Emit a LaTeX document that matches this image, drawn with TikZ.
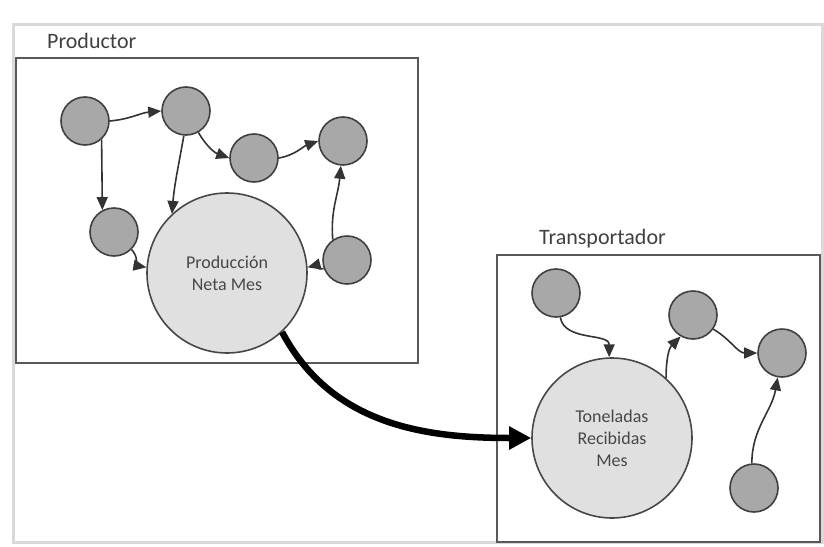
\documentclass[tikz,border=0pt]{standalone}
\usepackage{fontspec}
\setmainfont{Carlito}
\usetikzlibrary{positioning, arrows.meta}
\tikzstyle{frame} = [draw=black!65, line width=1.5pt, inner sep=0pt]
\tikzstyle{frame_label} = [font=\fontsize{22}{26}\selectfont, text=black!75, inner sep=0pt]
\tikzstyle{main_var} = [circle, draw=black!72, line width=1.6pt, fill=black!12, minimum size=160pt, inner sep=0pt,
 align=center, text=black!72, font=\fontsize{18}{22}\selectfont]
\tikzstyle{minor_var} = [circle, draw=black!75, line width=1.6pt, fill=black!34, minimum size=48pt, inner sep=0pt]
\tikzstyle{arrow} = [line width=1.6pt, draw=black!80, -{Triangle[length=13pt,width=11pt]}]
\tikzstyle{heavy_arrow} = [line width=6.5pt, -{Triangle[length=22pt,width=22pt]}]

\begin{document}
\begin{tikzpicture}[on grid]
\useasboundingbox (0,0) rectangle (824pt,-546pt);
\draw [draw=black!15, line width=3pt] (13pt,-24pt) rectangle (822pt,-542pt);

\node (PRODUCTOR_BOX) [frame, minimum width=402pt, minimum height=305pt] at (217pt,-210.5pt) {};
\node (PRODUCTOR_LABEL) [frame_label, anchor=base west] at (47pt,-48pt) {Productor};
\node (TRANSPORTADOR_BOX) [frame, minimum width=323pt, minimum height=287pt] at (658.5pt,-398.5pt) {};
\node (TRANSPORTADOR_LABEL) [frame_label, anchor=base west] at (539pt,-244pt) {Transportador};

% productor
\node (PROD_NETA_MES) [main_var] at (227pt,-273pt) {Producción\\Neta Mes};
\node (PROD_VAR_1) [minor_var, above left=152pt and 142pt of PROD_NETA_MES] {};
\node (PROD_VAR_2) [minor_var, above right=10pt and 101pt of PROD_VAR_1] {};
\node (PROD_VAR_3) [minor_var, below right=47pt and 68pt of PROD_VAR_2] {};
\node (PROD_VAR_4) [minor_var, above right=17pt and 89pt of PROD_VAR_3] {};
\node (PROD_VAR_5) [minor_var, below right=111pt and 29pt of PROD_VAR_1] {};
\node (PROD_VAR_6) [minor_var, below right=119pt and 4pt of PROD_VAR_4] {};

% transportador
\node (TON_RECIBIDAS_MES) [main_var, below right=165pt and 385pt of PROD_NETA_MES] {Toneladas\\Recibidas\\Mes};
\node (TRANS_VAR_1) [minor_var, above left=145pt and 56pt of TON_RECIBIDAS_MES] {};
\node (TRANS_VAR_2) [minor_var, above right=123pt and 81pt of TON_RECIBIDAS_MES] {};
\node (TRANS_VAR_3) [minor_var, below right=38pt and 89pt of TRANS_VAR_2] {};
\node (TRANS_VAR_4) [minor_var, below left=135pt and 28pt of TRANS_VAR_3] {};

\draw [arrow] (PROD_VAR_1.east) to[out=5, in=185] (PROD_VAR_2.west);
\draw [arrow] (PROD_VAR_1.-48) -- (PROD_VAR_5.118);
\draw [arrow] (PROD_VAR_2.-60) to[out=-60, in=160] (PROD_VAR_3.west);
\draw [arrow] (PROD_VAR_2.-95) to[out=-100, in=85] (PROD_NETA_MES.133);
\draw [arrow] (PROD_VAR_3.east) to[out=10, in=200] (PROD_VAR_4.west);
\draw [arrow] (PROD_VAR_5.-45) to[out=-45, in=170] (PROD_NETA_MES.176);
\draw [arrow] (PROD_VAR_6.200) to[out=200, in=15] (PROD_NETA_MES.4);
\draw [arrow] (PROD_VAR_6.125) to[out=95, in=-95] (PROD_VAR_4.-95);

\draw [arrow] (TRANS_VAR_1.-80) to[out=-80, in=90] (TON_RECIBIDAS_MES.92);
\draw [arrow] (TON_RECIBIDAS_MES.48) to[out=90, in=-135] (TRANS_VAR_2.-120);
\draw [arrow] (TRANS_VAR_2.-35) to[out=-30, in=180] (TRANS_VAR_3.west);
\draw [arrow] (TRANS_VAR_4.95) to[out=90, in=-100] (TRANS_VAR_3.-100);

\draw [heavy_arrow] (PROD_NETA_MES.-47) to[out=-62, in=180] (TON_RECIBIDAS_MES.west);

\end{tikzpicture}
\end{document}
